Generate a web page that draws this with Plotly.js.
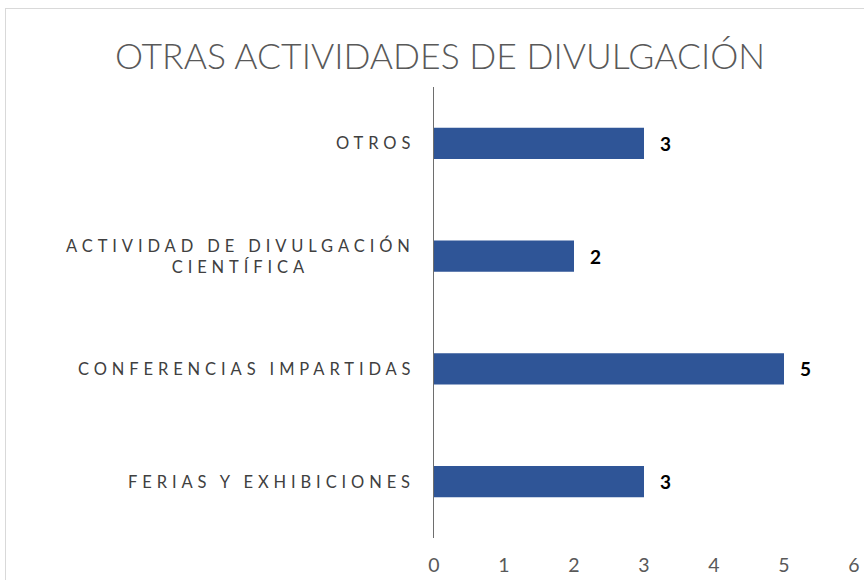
<!DOCTYPE html>
<html>
<head>
<meta charset="utf-8">
<script src="https://cdn.plot.ly/plotly-3.0.1.min.js"></script>
<style>
  body { margin: 0; background: #fff; }
  #chart { width: 864px; height: 580px; }
  #frame { position: absolute; left: 5px; top: 8px; width: 900px; height: 620px; border: 1px solid #d9d9d9; pointer-events: none; }
  text.annotation-text { letter-spacing: 4.9px; }
</style>
</head>
<body>
<div id="chart"></div>
<div id="frame"></div>
<script>
const categories = ["FERIAS Y EXHIBICIONES", "CONFERENCIAS IMPARTIDAS", "ACTIVIDAD DE DIVULGACIÓN<br>CIENTÍFICA", "OTROS"];
const values = [3, 5, 2, 3];
const xTicks = [0, 1, 2, 3, 4, 5, 6];
const titleText = "OTRAS ACTIVIDADES DE DIVULGACIÓN";

const annotations = [];
categories.forEach((c, i) => {
  annotations.push({
    x: 0, xref: 'x', y: i, yref: 'y', text: c, showarrow: false,
    xanchor: 'right', yanchor: 'middle', align: 'center', xshift: -17,
    font: {family: 'Lato, sans-serif', size: 16.5, color: '#404040'}
  });
  annotations.push({
    x: values[i], xref: 'x', y: i, yref: 'y', text: String(values[i]), showarrow: false,
    xanchor: 'left', yanchor: 'middle', xshift: 14,
    font: {family: 'Lato, sans-serif', size: 19, color: '#000000', weight: 'bold'}
  });
});

const data = [{
  type: 'bar', orientation: 'h',
  x: values, y: categories.map((c, i) => i),
  width: 0.275,
  marker: {color: '#2F5597'},
  hoverinfo: 'none'
}];

const layout = {
  width: 864, height: 580,
  margin: {l: 434, r: 10, t: 87, b: 42},
  paper_bgcolor: '#ffffff', plot_bgcolor: '#ffffff',
  showlegend: false,
  title: {text: titleText, x: 440 / 864, xref: 'container', xanchor: 'center', y: 0.902, yref: 'container', yanchor: 'middle',
          font: {family: 'Lato, sans-serif', size: 35.5, color: '#595959', weight: 300}},
  xaxis: {range: [0, 6], tickvals: xTicks, ticktext: xTicks.map(String), showgrid: false, zeroline: false, showline: false,
          ticks: '', ticklabelstandoff: 13, tickfont: {family: 'Lato, sans-serif', size: 19.5, color: '#595959'}, fixedrange: true},
  yaxis: {range: [-0.5, 3.5], showticklabels: false, showgrid: false, zeroline: false, showline: true, linecolor: '#6e6e6e', linewidth: 1,
          ticks: '', fixedrange: true},
  annotations: annotations
};

Plotly.newPlot('chart', data, layout, {displayModeBar: false, staticPlot: true});
</script>
</body>
</html>
